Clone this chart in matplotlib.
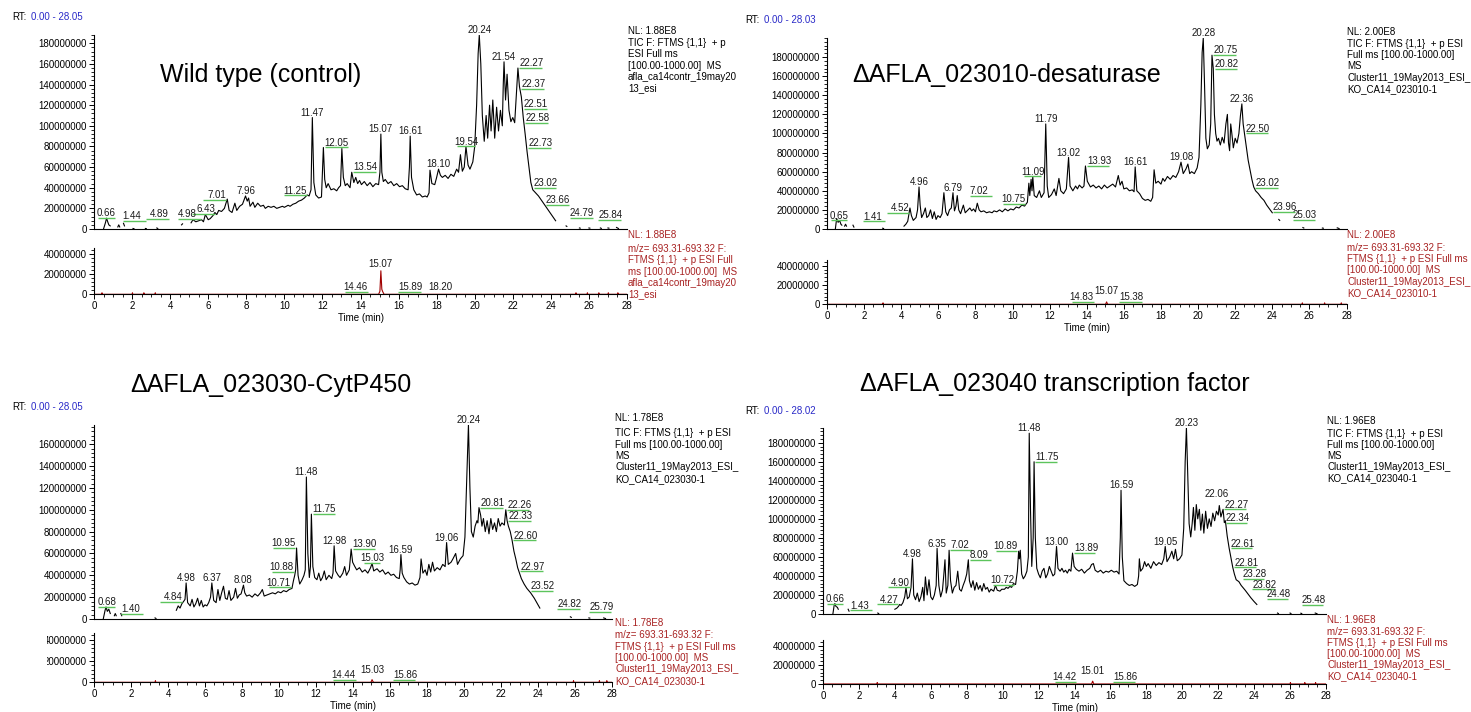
import numpy as np
import matplotlib.pyplot as plt
from matplotlib.ticker import FixedLocator, MultipleLocator, FuncFormatter
from matplotlib.transforms import offset_copy
from matplotlib.patches import Rectangle

plt.rcParams['font.family'] = ['Liberation Sans', 'DejaVu Sans']

nan = np.nan

# ---------- data: (time in min, intensity in millions); (nan, nan) = gap ----------

# Wild type (control)
wt_tic = [
    (0.50, 0), (0.60, 6), (0.66, 10.5), (0.72, 7), (0.78, 4), (0.85, 3), (nan, nan),
    (1.25, 2), (1.30, 4), (1.35, 2), (nan, nan), (1.55, 5.5), (1.60, 3), (nan, nan),
    (2.05, 0.5), (2.10, 0.3), (nan, nan), (2.70, 0.5), (2.75, 0.3), (nan, nan),
    (3.30, 1), (3.35, 0.5), (nan, nan), (4.60, 4), (4.65, 5), (nan, nan),
    (5.10, 6), (5.20, 9), (5.35, 7), (5.50, 8), (5.65, 9), (5.75, 7), (5.85, 14), (6.00, 9),
    (6.10, 10), (6.25, 13), (6.35, 16), (6.45, 14), (6.55, 18), (6.70, 17), (6.85, 20),
    (7.00, 29), (7.10, 18), (7.25, 16), (7.40, 25), (7.50, 18), (7.65, 22), (7.80, 24),
    (7.96, 32), (8.05, 27), (8.12, 30), (8.20, 22), (8.35, 26), (8.45, 21), (8.60, 25),
    (8.75, 22), (8.90, 23), (9.00, 20), (9.15, 22), (9.30, 21), (9.45, 22), (9.60, 20),
    (9.75, 21), (9.90, 22), (10.00, 21), (10.20, 23), (10.30, 22), (10.45, 24), (10.60, 25),
    (10.75, 27), (10.90, 28), (11.05, 30), (11.20, 33), (11.30, 32), (11.40, 38),
    (11.47, 108), (11.55, 45), (11.65, 33), (11.80, 30), (11.95, 31), (12.05, 79),
    (12.12, 48), (12.20, 40), (12.30, 44), (12.45, 38), (12.60, 39), (12.75, 37),
    (12.85, 40), (12.95, 42), (13.02, 78), (13.10, 50), (13.20, 42), (13.30, 44),
    (13.45, 40), (13.54, 55), (13.65, 45), (13.75, 50), (13.85, 44), (13.95, 47),
    (14.05, 43), (14.20, 46), (14.35, 42), (14.50, 45), (14.65, 41), (14.80, 44),
    (14.95, 43), (15.02, 55), (15.07, 92), (15.12, 55), (15.20, 46), (15.30, 48),
    (15.45, 44), (15.60, 46), (15.75, 42), (15.90, 44), (16.05, 41), (16.20, 42),
    (16.35, 39), (16.50, 38), (16.57, 60), (16.61, 90), (16.68, 50), (16.80, 38),
    (16.95, 33), (17.10, 34), (17.25, 31), (17.40, 32), (17.50, 31), (17.60, 35),
    (17.65, 57), (17.75, 44), (17.90, 43), (18.00, 50), (18.10, 58), (18.20, 52),
    (18.30, 50), (18.45, 52), (18.60, 49), (18.75, 53), (18.90, 51), (19.05, 58),
    (19.15, 55), (19.25, 72), (19.35, 56), (19.45, 60), (19.54, 80), (19.65, 62),
    (19.75, 58), (19.90, 65), (20.00, 80), (20.10, 120), (20.18, 170), (20.24, 188),
    (20.32, 160), (20.40, 110), (20.50, 85), (20.60, 110), (20.68, 88), (20.78, 120),
    (20.86, 95), (20.95, 125), (21.05, 88), (21.15, 118), (21.25, 95), (21.35, 115),
    (21.45, 100), (21.50, 140), (21.54, 162), (21.62, 125), (21.70, 150), (21.80, 115),
    (21.90, 104), (22.00, 108), (22.10, 103), (22.20, 135), (22.27, 156), (22.35, 138),
    (22.45, 128), (22.55, 108), (22.65, 92), (22.75, 75), (22.85, 60), (22.95, 45),
    (23.05, 38), (23.20, 35), (23.35, 32), (23.50, 28), (23.65, 24), (23.80, 20),
    (23.95, 16), (24.10, 12), (24.25, 8), (nan, nan),
    (24.80, 3), (24.84, 2.5), (nan, nan), (25.50, 1), (25.54, 0.8), (nan, nan),
    (26.00, 1), (26.05, 0.8), (nan, nan), (26.60, 1), (26.65, 0.6), (nan, nan),
    (27.00, 1), (27.05, 0.8), (nan, nan), (27.45, 1.5), (27.55, 0.5),
]
wt_xic = [
    (0, 0), (0.40, 0), (0.42, 1.5), (0.44, 0), (2.00, 0), (2.02, 1.5), (2.04, 0),
    (2.60, 0), (2.62, 1.5), (2.64, 0), (3.20, 0), (3.22, 1.5), (3.24, 0),
    (14.95, 0), (15.02, 3), (15.07, 23.5), (15.12, 5), (15.17, 2.5), (15.24, 0),
    (25.30, 0), (25.32, 1.5), (25.34, 0), (25.90, 0), (25.92, 1.5), (25.94, 0),
    (26.50, 0), (26.52, 1.5), (26.54, 0), (27.00, 0), (27.02, 1.5), (27.04, 0),
    (27.50, 0), (27.52, 1.5), (27.54, 0), (28.0, 0),
]
wt_peaks = ["0.66", "1.44", "4.89", "4.98", "6.43", "7.01", "7.96", "11.25", "11.47",
            "12.05", "13.54", "15.07", "16.61", "18.10", "19.54", "20.24", "21.54",
            "22.27", "22.37", "22.51", "22.58", "22.73", "23.02", "23.66", "24.79", "25.84"]
wt_xic_peaks = ["14.46", "15.07", "15.89", "18.20"]

# Delta AFLA_023010 desaturase
des_tic = [
    (0.45, 0), (0.52, 11), (0.60, 7), (0.68, 9), (0.75, 5), (0.80, 4), (nan, nan),
    (0.95, 3), (1.00, 5), (1.05, 3), (nan, nan), (1.40, 4), (1.45, 2), (nan, nan),
    (3.00, 0.8), (3.05, 0.5), (nan, nan),
    (4.15, 3), (4.25, 5), (4.35, 8), (4.47, 22), (4.55, 14), (4.65, 9), (4.80, 12),
    (4.88, 20), (4.96, 44), (5.02, 25), (5.10, 12), (5.20, 16), (5.30, 22), (5.38, 12),
    (5.48, 14), (5.58, 20), (5.68, 11), (5.78, 18), (5.88, 10), (5.98, 14), (6.10, 12),
    (6.20, 16), (6.30, 38), (6.40, 18), (6.50, 14), (6.60, 20), (6.70, 22), (6.79, 38),
    (6.87, 19), (6.95, 24), (7.02, 35), (7.10, 20), (7.20, 16), (7.35, 25), (7.45, 17),
    (7.60, 20), (7.70, 22), (7.80, 19), (7.90, 21), (8.00, 18), (8.10, 27), (8.20, 20),
    (8.30, 18), (8.45, 19), (8.60, 17), (8.75, 18), (8.90, 17), (9.00, 19), (9.15, 18),
    (9.30, 20), (9.45, 18), (9.60, 21), (9.75, 19), (9.90, 21), (10.05, 20), (10.20, 23),
    (10.35, 22), (10.50, 25), (10.65, 24), (10.80, 28), (10.88, 48), (10.93, 35),
    (11.00, 52), (11.05, 40), (11.09, 55), (11.17, 35), (11.30, 33), (11.45, 40),
    (11.55, 33), (11.70, 38), (11.79, 110), (11.87, 45), (11.95, 33), (12.10, 36),
    (12.25, 42), (12.35, 35), (12.50, 53), (12.60, 40), (12.75, 37), (12.90, 42),
    (13.02, 75), (13.10, 45), (13.25, 40), (13.40, 45), (13.50, 42), (13.60, 46),
    (13.75, 43), (13.85, 45), (13.93, 66), (14.03, 50), (14.20, 44), (14.35, 46),
    (14.50, 43), (14.65, 45), (14.80, 42), (14.95, 46), (15.10, 43), (15.25, 45),
    (15.40, 47), (15.55, 44), (15.70, 56), (15.80, 46), (15.90, 50), (16.00, 42),
    (16.15, 43), (16.30, 40), (16.45, 41), (16.55, 39), (16.61, 65), (16.70, 40),
    (16.85, 37), (17.00, 32), (17.15, 30), (17.30, 31), (17.45, 29), (17.55, 33),
    (17.63, 62), (17.72, 48), (17.85, 50), (18.00, 47), (18.10, 53), (18.20, 50),
    (18.35, 55), (18.50, 52), (18.65, 56), (18.80, 54), (18.95, 60), (19.08, 70),
    (19.20, 58), (19.35, 63), (19.45, 68), (19.55, 58), (19.65, 60), (19.80, 58),
    (19.95, 64), (20.05, 75), (20.15, 130), (20.22, 185), (20.28, 200), (20.35, 150),
    (20.42, 95), (20.50, 84), (20.60, 88), (20.68, 110), (20.75, 182), (20.82, 168),
    (20.88, 120), (20.95, 100), (21.02, 92), (21.10, 95), (21.20, 88), (21.30, 96),
    (21.40, 90), (21.50, 110), (21.58, 120), (21.64, 90), (21.70, 82), (21.76, 110),
    (21.82, 100), (21.90, 85), (22.00, 95), (22.10, 90), (22.20, 100), (22.28, 118),
    (22.36, 131), (22.43, 110), (22.50, 100), (22.60, 85), (22.70, 72), (22.80, 62),
    (22.90, 52), (23.00, 44), (23.10, 40), (23.25, 37), (23.40, 33), (23.55, 30),
    (23.70, 25), (23.85, 21), (24.00, 17), (nan, nan),
    (24.35, 10), (24.40, 9), (nan, nan), (25.65, 1.5), (25.70, 1), (nan, nan),
    (26.70, 1), (26.75, 0.8), (nan, nan), (27.50, 1.2), (27.60, 0.5),
]
des_xic = [
    (0, 0), (3.00, 0), (3.02, 1.5), (3.04, 0), (15.00, 0), (15.04, 1), (15.07, 2.5),
    (15.10, 1), (15.14, 0), (25.60, 0), (25.62, 1.5), (25.64, 0), (26.80, 0),
    (26.82, 1.5), (26.84, 0), (27.70, 0), (27.72, 1.5), (27.74, 0), (28.0, 0),
]
des_peaks = ["0.65", "1.41", "4.52", "4.96", "6.79", "7.02", "10.75", "11.09", "11.79",
             "13.02", "13.93", "16.61", "19.08", "20.28", "20.75", "20.82", "22.36",
             "22.50", "23.02", "23.96", "25.03"]
des_xic_peaks = ["14.83", "15.07", "15.38"]

# Delta AFLA_023030 CytP450
cyp_tic = [
    (0.50, 0), (0.60, 8), (0.65, 11), (0.72, 7), (0.80, 9), (0.88, 5), (nan, nan),
    (1.10, 3), (1.15, 5), (1.20, 3), (nan, nan), (1.45, 5), (1.50, 3), (nan, nan),
    (3.30, 1), (3.35, 0.5), (nan, nan),
    (4.45, 8), (4.55, 12), (4.65, 10), (4.75, 14), (4.84, 16), (4.92, 18), (4.98, 33),
    (5.06, 15), (5.20, 12), (5.30, 18), (5.40, 11), (5.50, 14), (5.60, 19), (5.70, 12),
    (5.80, 17), (5.90, 11), (6.00, 13), (6.10, 12), (6.20, 15), (6.30, 20), (6.37, 33),
    (6.47, 17), (6.60, 15), (6.70, 27), (6.80, 17), (6.90, 24), (7.00, 30), (7.10, 19),
    (7.20, 18), (7.30, 26), (7.40, 17), (7.55, 20), (7.65, 28), (7.75, 19), (7.85, 22),
    (7.95, 23), (8.08, 31), (8.15, 24), (8.25, 21), (8.40, 22), (8.55, 20), (8.70, 23),
    (8.85, 21), (9.00, 24), (9.10, 27), (9.20, 21), (9.35, 22), (9.50, 23), (9.65, 24),
    (9.80, 23), (9.95, 25), (10.10, 24), (10.25, 26), (10.40, 25), (10.55, 27),
    (10.70, 28), (10.78, 35), (10.85, 40), (10.90, 45), (10.95, 65), (11.03, 40),
    (11.12, 32), (11.25, 36), (11.35, 40), (11.42, 45), (11.48, 130), (11.56, 60),
    (11.64, 38), (11.70, 48), (11.75, 96), (11.83, 48), (11.93, 38), (12.05, 36),
    (12.15, 42), (12.25, 35), (12.35, 38), (12.45, 44), (12.55, 36), (12.70, 40),
    (12.85, 37), (12.92, 42), (12.98, 67), (13.06, 44), (13.20, 40), (13.30, 38),
    (13.45, 42), (13.55, 48), (13.65, 40), (13.80, 45), (13.90, 64), (13.98, 52),
    (14.10, 48), (14.20, 45), (14.35, 47), (14.50, 43), (14.65, 45), (14.80, 42),
    (14.95, 47), (15.03, 51), (15.12, 44), (15.30, 46), (15.45, 43), (15.60, 45),
    (15.75, 41), (15.90, 43), (16.05, 40), (16.20, 41), (16.35, 38), (16.50, 37),
    (16.55, 45), (16.59, 59), (16.66, 42), (16.75, 38), (16.90, 34), (17.05, 32),
    (17.20, 33), (17.35, 31), (17.50, 32), (17.62, 38), (17.68, 55), (17.78, 42),
    (17.90, 45), (18.00, 40), (18.10, 50), (18.20, 43), (18.30, 52), (18.40, 44),
    (18.55, 47), (18.70, 45), (18.85, 50), (18.98, 48), (19.06, 70), (19.15, 50),
    (19.30, 52), (19.40, 55), (19.55, 60), (19.65, 50), (19.80, 55), (19.95, 58),
    (20.05, 75), (20.15, 130), (20.24, 178), (20.32, 120), (20.40, 80), (20.50, 75),
    (20.60, 85), (20.70, 90), (20.75, 88), (20.81, 102), (20.90, 95), (20.97, 85),
    (21.05, 92), (21.15, 80), (21.25, 90), (21.35, 78), (21.45, 92), (21.55, 82),
    (21.65, 88), (21.75, 80), (21.85, 92), (21.95, 85), (22.05, 88), (22.18, 86),
    (22.26, 100), (22.33, 90), (22.40, 85), (22.50, 80), (22.60, 72), (22.70, 62),
    (22.80, 55), (22.90, 47), (23.00, 42), (23.10, 37), (23.25, 32), (23.40, 28),
    (23.60, 24), (23.80, 19), (24.00, 13), (24.10, 10), (nan, nan),
    (25.75, 2), (25.80, 1.5), (nan, nan), (26.75, 1), (26.80, 0.8), (nan, nan),
    (27.55, 1), (27.65, 0.4),
]
cyp_xic = [
    (0, 0), (3.30, 0), (3.32, 1.5), (3.34, 0), (14.95, 0), (15.00, 1), (15.03, 2.5),
    (15.07, 1), (15.12, 0), (25.90, 0), (25.92, 1.5), (25.94, 0), (27.30, 0),
    (27.32, 1.5), (27.34, 0), (27.70, 0), (27.72, 1.5), (27.74, 0), (28.0, 0),
]
cyp_peaks = ["0.68", "1.40", "4.84", "4.98", "6.37", "8.08", "10.71", "10.88", "10.95",
             "11.48", "11.75", "12.98", "13.90", "15.03", "16.59", "19.06", "20.24",
             "20.81", "22.26", "22.33", "22.60", "22.97", "23.52", "24.82", "25.79"]
cyp_xic_peaks = ["14.44", "15.03", "15.86"]

# Delta AFLA_023040 transcription factor
tf_tic = [
    (0.55, 0), (0.62, 9), (0.66, 11), (0.72, 8), (0.80, 7), (0.85, 5), (nan, nan),
    (1.40, 5), (1.45, 3), (nan, nan), (3.05, 1), (3.10, 0.5), (nan, nan),
    (4.00, 5), (4.10, 6), (4.20, 8), (4.27, 10), (4.35, 9), (4.45, 12), (4.55, 18),
    (4.62, 28), (4.70, 16), (4.80, 18), (4.90, 28), (4.98, 58), (5.05, 20), (5.15, 15),
    (5.25, 22), (5.35, 13), (5.45, 18), (5.55, 28), (5.62, 14), (5.70, 39), (5.80, 20),
    (5.90, 36), (6.00, 18), (6.10, 15), (6.20, 20), (6.30, 30), (6.35, 69), (6.45, 30),
    (6.55, 18), (6.65, 25), (6.72, 40), (6.79, 57), (6.86, 22), (6.95, 30), (7.02, 67),
    (7.10, 35), (7.20, 22), (7.30, 28), (7.40, 30), (7.50, 45), (7.60, 26), (7.70, 24),
    (7.80, 30), (7.90, 35), (8.00, 42), (8.09, 57), (8.15, 35), (8.25, 28), (8.35, 35),
    (8.45, 25), (8.55, 33), (8.65, 26), (8.75, 30), (8.85, 24), (8.95, 32), (9.05, 26),
    (9.15, 28), (9.25, 23), (9.35, 26), (9.50, 24), (9.60, 30), (9.70, 25), (9.85, 24),
    (9.95, 26), (10.10, 26), (10.20, 28), (10.30, 27), (10.40, 29), (10.50, 28),
    (10.60, 32), (10.72, 31), (10.82, 45), (10.89, 66), (10.93, 58), (10.98, 67),
    (11.06, 42), (11.15, 37), (11.25, 40), (11.35, 45), (11.43, 60), (11.48, 190),
    (11.55, 110), (11.62, 50), (11.70, 80), (11.75, 160), (11.82, 80), (11.90, 48),
    (12.00, 42), (12.10, 38), (12.20, 45), (12.30, 48), (12.40, 38), (12.50, 42),
    (12.60, 50), (12.70, 45), (12.80, 40), (12.90, 42), (13.00, 71), (13.08, 48),
    (13.20, 45), (13.30, 48), (13.40, 44), (13.50, 46), (13.60, 43), (13.70, 47),
    (13.80, 45), (13.89, 64), (13.98, 50), (14.10, 47), (14.25, 45), (14.40, 47),
    (14.55, 43), (14.70, 46), (14.85, 48), (14.95, 52), (15.05, 53), (15.15, 46),
    (15.30, 44), (15.45, 46), (15.60, 43), (15.75, 45), (15.90, 44), (16.05, 46),
    (16.20, 44), (16.35, 45), (16.48, 42), (16.55, 80), (16.59, 130), (16.66, 60),
    (16.75, 35), (16.90, 32), (17.05, 30), (17.20, 31), (17.35, 29), (17.50, 31),
    (17.57, 40), (17.61, 58), (17.68, 45), (17.80, 48), (17.90, 55), (18.00, 50),
    (18.10, 53), (18.25, 48), (18.40, 55), (18.55, 51), (18.70, 54), (18.85, 52),
    (18.97, 58), (19.05, 71), (19.15, 55), (19.30, 60), (19.42, 66), (19.52, 58),
    (19.62, 68), (19.72, 56), (19.85, 58), (19.98, 62), (20.08, 90), (20.16, 160),
    (20.23, 196), (20.30, 150), (20.38, 95), (20.47, 81), (20.55, 95), (20.62, 112),
    (20.70, 88), (20.78, 115), (20.86, 100), (20.95, 110), (21.03, 88), (21.12, 105),
    (21.20, 85), (21.30, 108), (21.40, 90), (21.50, 100), (21.60, 92), (21.70, 106),
    (21.80, 98), (21.90, 108), (22.00, 104), (22.06, 114), (22.15, 102), (22.27, 110),
    (22.34, 96), (22.40, 98), (22.50, 82), (22.61, 69), (22.70, 60), (22.81, 49),
    (22.90, 42), (23.00, 36), (23.15, 34), (23.28, 30), (23.50, 25), (23.70, 20),
    (23.82, 17), (24.00, 13), (24.15, 10), (nan, nan),
    (25.30, 1), (25.35, 0.5), (nan, nan), (26.00, 1), (26.05, 0.5), (nan, nan),
    (26.60, 0.8), (26.65, 0.5), (nan, nan), (27.40, 1), (27.50, 0.3),
]
tf_xic = [
    (0, 0), (3.00, 0), (3.02, 1.5), (3.04, 0), (14.95, 0), (14.98, 1.5), (15.01, 3),
    (15.04, 1.5), (15.08, 0), (26.00, 0), (26.02, 1.5), (26.04, 0), (26.80, 0),
    (26.82, 1.5), (26.84, 0), (27.40, 0), (27.42, 1.5), (27.44, 0), (28.0, 0),
]
tf_peaks = ["0.66", "1.43", "4.27", "4.90", "4.98", "6.35", "7.02", "8.09", "10.72",
            "10.89", "11.48", "11.75", "13.00", "13.89", "16.59", "19.05", "20.23",
            "22.06", "22.27", "22.34", "22.61", "22.81", "23.28", "23.82", "24.48", "25.48"]
tf_xic_peaks = ["14.42", "15.01", "15.86"]

titles = ["Wild type (control)", "\u0394AFLA_023010-desaturase",
          "\u0394AFLA_023030-CytP450", "\u0394AFLA_023040 transcription factor"]
rt_ranges = ["0.00 - 28.05", "0.00 - 28.03", "0.00 - 28.05", "0.00 - 28.02"]
nl_values = [1.88e8, 2.00e8, 1.78e8, 1.96e8]
nl_labels = ["NL: 1.88E8", "NL: 2.00E8", "NL: 1.78E8", "NL: 1.96E8"]
tic_info = [
    ["TIC F: FTMS {1,1}  + p", "ESI Full ms", "[100.00-1000.00]  MS",
     "afla_ca14contr_19may20", "13_esi"],
    ["TIC F: FTMS {1,1}  + p ESI", "Full ms [100.00-1000.00]", "MS",
     "Cluster11_19May2013_ESI_", "KO_CA14_023010-1"],
    ["TIC F: FTMS {1,1}  + p ESI", "Full ms [100.00-1000.00]", "MS",
     "Cluster11_19May2013_ESI_", "KO_CA14_023030-1"],
    ["TIC F: FTMS {1,1}  + p ESI", "Full ms [100.00-1000.00]", "MS",
     "Cluster11_19May2013_ESI_", "KO_CA14_023040-1"],
]
xic_info = [
    ["m/z= 693.31-693.32 F:", "FTMS {1,1}  + p ESI Full", "ms [100.00-1000.00]  MS",
     "afla_ca14contr_19may20", "13_esi"],
    ["m/z= 693.31-693.32 F:", "FTMS {1,1}  + p ESI Full ms", "[100.00-1000.00]  MS",
     "Cluster11_19May2013_ESI_", "KO_CA14_023010-1"],
    ["m/z= 693.31-693.32 F:", "FTMS {1,1}  + p ESI Full ms", "[100.00-1000.00]  MS",
     "Cluster11_19May2013_ESI_", "KO_CA14_023030-1"],
    ["m/z= 693.31-693.32 F:", "FTMS {1,1}  + p ESI Full ms", "[100.00-1000.00]  MS",
     "Cluster11_19May2013_ESI_", "KO_CA14_023040-1"],
]

# ---------- layout (pixels of the 1471x712 canvas) ----------
W, H = 1471, 712
GREEN = '#5cc45c'
RED_TXT = '#a82222'
RED_LINE = '#a00000'
BLUE = '#2a2ac8'

# label placement: c = centred, g = centred + green bar, l = right of peak, r = left of peak
wt_sides = "glrlrrcrcllcccgcclllllllll"
des_sides = "glrcclrgcclcccllcllll"
cyp_sides = "glrcccrrrclclgcccllllllll"
tf_sides = "glrrccllrrclclccccllllllll"

panels = [
    dict(tic=wt_tic, xic=wt_xic, peaks=wt_peaks, sides=wt_sides,
         xpeaks=wt_xic_peaks, xsides="rclc",
         nudge={"1.44": (0, 3), "4.89": (-12, 3), "4.98": (-9, 3),
                "24.79": (2, 5.5), "25.84": (8, 6)},
         xnudge={},
         tic_box=(94, 229, 533, 194), xic_box=(94, 294.3, 533, 46), xic_top=4.6e7,
         rt=(12, 17), title=(160, 75), info=(628, 31, 43, 235, 249), step=11.3),
    dict(tic=des_tic, xic=des_xic, peaks=des_peaks, sides=des_sides,
         xpeaks=des_xic_peaks, xsides="rcl",
         nudge={"1.41": (6, 3), "7.02": (8, 0), "25.03": (0, 3)},
         xnudge={"14.83": (-5, 0), "15.07": (0, 3), "15.38": (4, 0)},
         tic_box=(827, 229, 519.5, 191), xic_box=(827, 304.3, 519.5, 44.4), xic_top=4.6e7,
         rt=(745, 20), title=(852, 75), info=(1347, 32, 44, 235, 248), step=11.2),
    dict(tic=cyp_tic, xic=cyp_xic, peaks=cyp_peaks, sides=cyp_sides,
         xpeaks=cyp_xic_peaks, xsides="rcl",
         nudge={"24.82": (2, 2), "25.79": (12, 4)},
         xnudge={"14.44": (-3, 0), "15.03": (0, 2), "15.86": (3, 0)},
         tic_box=(94, 619, 518, 194.4), xic_box=(94, 682.3, 518, 49), xic_top=4.6e7,
         rt=(12, 407), title=(130, 385), info=(615, 418, 433, 623, 635), step=11.5),
    dict(tic=tf_tic, xic=tf_xic, peaks=tf_peaks, sides=tf_sides,
         xpeaks=tf_xic_peaks, xsides="rcl",
         nudge={"22.06": (-2, 5), "23.28": (0, 5), "23.82": (0, 6), "24.48": (2, 6),
                "25.48": (14, 6)},
         xnudge={"14.42": (-3, 0), "15.01": (0, 2), "15.86": (3, 0)},
         tic_box=(823, 614, 503, 186.5), xic_box=(823, 684, 503, 43.7), xic_top=4.6e7,
         rt=(745, 411), title=(860, 384), info=(1327, 421, 434, 620, 632), step=11.0),
]

fig = plt.figure(figsize=(W / 100, H / 100), dpi=100)


def rect(left, bottom, width, height):
    return [left / W, 1 - bottom / H, width / W, height / H]


def fx(x):
    return x / W


def fy(y):
    return 1 - y / H


def style(ax, top):
    for s in ('top', 'right'):
        ax.spines[s].set_visible(False)
    for s in ('left', 'bottom'):
        ax.spines[s].set_linewidth(0.8)
    ax.set_xlim(0, 28)
    ax.set_ylim(0, top)
    ax.yaxis.set_major_locator(FixedLocator(np.arange(0, top - 1, 2e7)))
    ax.yaxis.set_minor_locator(MultipleLocator(4e6))
    ax.yaxis.set_major_formatter(FuncFormatter(lambda v, p: '%d' % round(v)))
    ax.tick_params(axis='both', which='major', length=3.5, width=0.7, labelsize=7, pad=1.5)
    ax.tick_params(axis='both', which='minor', length=2, width=0.6)
    ax.patch.set_alpha(0)


def label_peaks(ax, data, names, sides, nudge, lift):
    t, v = np.array(data, float).T
    ok = ~np.isnan(t)
    tt, vv = t[ok], v[ok]
    for name, side in zip(names, sides):
        rt = float(name)
        y = np.interp(rt, tt, vv)
        if side in 'cg':
            near = np.abs(tt - rt) <= 0.06
            if near.any():
                y = max(y, vv[near].max())
        y *= 1e6
        dx, dy = nudge.get(name, (0, 0))
        dx += {'c': 0, 'g': 0, 'l': 1, 'r': -1}[side]
        ha = {'c': 'center', 'g': 'center', 'l': 'left', 'r': 'right'}[side]
        ttxt = offset_copy(ax.transData, fig=fig, x=dx, y=dy + lift + 1.3, units='points')
        ax.text(rt, y, name, transform=ttxt, ha=ha, va='baseline', fontsize=7,
                color='#1a1a1a', clip_on=False, zorder=5)
        if side != 'c':
            x0, x1 = {'g': (rt - 0.45, rt + 0.45), 'l': (rt, rt + 1.2),
                      'r': (rt - 1.2, rt)}[side]
            tline = offset_copy(ax.transData, fig=fig, x=dx, y=dy + lift, units='points')
            ax.plot([x0, x1], [y, y], color=GREEN, lw=1.0, transform=tline,
                    clip_on=False, zorder=4, solid_capstyle='butt')


for i, p in enumerate(panels):
    nl = nl_values[i]
    # TIC
    ax = fig.add_axes(rect(*p['tic_box']))
    t, v = np.array(p['tic'], float).T
    ax.plot(t, v * 1e6, color='black', lw=0.8)
    style(ax, nl)
    ax.tick_params(axis='x', which='both', bottom=False, labelbottom=False)
    label_peaks(ax, p['tic'], p['peaks'], p['sides'], p['nudge'], 0)

    # extracted ion chromatogram
    bx = fig.add_axes(rect(*p['xic_box']))
    t, v = np.array(p['xic'], float).T
    bx.plot(t, v * 1e6, color=RED_LINE, lw=0.8)
    style(bx, p['xic_top'])
    bx.xaxis.set_major_locator(MultipleLocator(2))
    bx.xaxis.set_minor_locator(MultipleLocator(0.5))
    bx.set_xlabel('Time (min)', fontsize=7, labelpad=1.5)
    label_peaks(bx, p['xic'], p['xpeaks'], p['xsides'], p['xnudge'], 1.5)

    # header texts
    rx, ry = p['rt']
    fig.text(fx(rx), fy(ry), "RT:", fontsize=7, va='center')
    fig.text(fx(rx + 19), fy(ry), rt_ranges[i], fontsize=7, va='center', color=BLUE)
    tx, ty = p['title']
    fig.text(fx(tx), fy(ty), titles[i], fontsize=18, va='center', ha='left')

    ix, y_nl, y_first, y_nl2, y_first2 = p['info']
    fig.text(fx(ix), fy(y_nl), nl_labels[i], fontsize=7, va='center')
    for k, line in enumerate(tic_info[i]):
        fig.text(fx(ix), fy(y_first + k * p['step']), line, fontsize=7, va='center')
    fig.text(fx(ix), fy(y_nl2), nl_labels[i], fontsize=7, va='center', color=RED_TXT)
    for k, line in enumerate(xic_info[i]):
        fig.text(fx(ix), fy(y_first2 + k * p['step']), line, fontsize=7, va='center',
                 color=RED_TXT)

# the screenshot cuts off the left of the lower-left ion trace's y labels
fig.add_artist(Rectangle((0, fy(668)), fx(47), (668 - 630) / H, transform=fig.transFigure,
                         facecolor='white', edgecolor='none', zorder=10))

fig.savefig("out.png", dpi=100)
